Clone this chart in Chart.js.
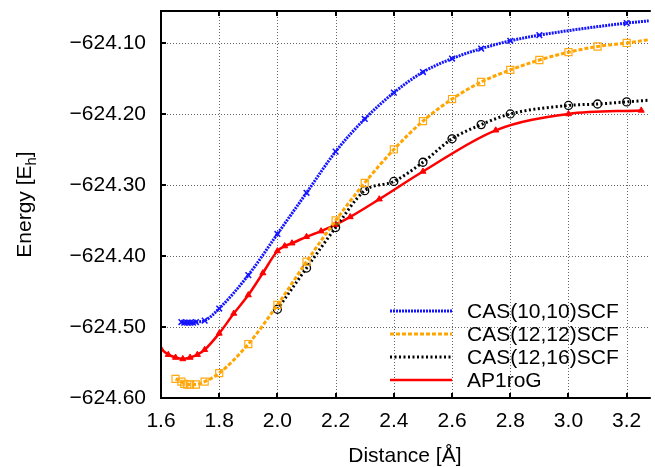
<!DOCTYPE html>
<html>
<head>
<meta charset="utf-8">
<script src="https://cdn.jsdelivr.net/npm/chart.js@4/dist/chart.umd.min.js"></script>
<style>
  html, body { margin: 0; padding: 0; background: #fff; }
  #chart { display: block; }
</style>
</head>
<body>
<canvas id="chart" width="655" height="467"></canvas>
<script>
// (Distance in Å, Energy in Eh)
const cas1010X = [1.67, 1.68, 1.69, 1.70, 1.71, 1.72, 1.75, 1.80, 1.90, 2.00, 2.10, 2.20, 2.30, 2.40, 2.50, 2.60, 2.70, 2.80, 2.90, 3.20, 3.30];
const cas1010E = [-624.493, -624.494, -624.494, -624.494, -624.494, -624.493, -624.491, -624.474, -624.427, -624.369, -624.311, -624.253, -624.207, -624.170, -624.141, -624.122, -624.108, -624.097, -624.089, -624.072, -624.068];

const cas1212X = [1.65, 1.67, 1.68, 1.69, 1.70, 1.72, 1.75, 1.80, 1.90, 2.00, 2.10, 2.20, 2.30, 2.40, 2.50, 2.60, 2.70, 2.80, 2.90, 3.00, 3.10, 3.20, 3.30];
const cas1212E = [-624.573, -624.577, -624.580, -624.581, -624.581, -624.581, -624.577, -624.565, -624.524, -624.469, -624.408, -624.350, -624.297, -624.250, -624.210, -624.179, -624.155, -624.138, -624.124, -624.113, -624.105, -624.100, -624.094];

const cas1216X = [2.00, 2.10, 2.20, 2.30, 2.40, 2.50, 2.60, 2.70, 2.80, 3.00, 3.10, 3.20, 3.30];
const cas1216E = [-624.475, -624.417, -624.360, -624.308, -624.295, -624.268, -624.235, -624.215, -624.200, -624.188, -624.186, -624.183, -624.180];

const ap1rogX = [1.60, 1.625, 1.65, 1.675, 1.70, 1.725, 1.75, 1.80, 1.85, 1.90, 1.95, 2.00, 2.025, 2.05, 2.10, 2.15, 2.20, 2.25, 2.35, 2.50, 2.75, 3.00, 3.25];
const ap1rogE = [-624.531, -624.539, -624.543, -624.545, -624.543, -624.539, -624.532, -624.509, -624.481, -624.455, -624.424, -624.393, -624.386, -624.382, -624.373, -624.365, -624.356, -624.345, -624.320, -624.281, -624.223, -624.200, -624.195];

const seriesNames = ['CAS(10,10)SCF', 'CAS(12,12)SCF', 'CAS(12,16)SCF', 'AP1roG'];
const xTicks = [1.6, 1.8, 2.0, 2.2, 2.4, 2.6, 2.8, 3.0, 3.2];
const yTicks = [-624.6, -624.5, -624.4, -624.3, -624.2, -624.1];

const FONT = '"Liberation Sans", Arial, Helvetica, sans-serif';

function pts(xs, ys) {
    return xs.map((x, i) => ({ x: x, y: ys[i] }));
}

// dotted grid behind the curves
const dottedGrid = {
    id: 'dottedGrid',
    beforeDatasetsDraw(chart) {
        const ctx = chart.ctx;
        const a = chart.chartArea;
        const xs = chart.scales.x, ys = chart.scales.y;
        ctx.save();
        ctx.strokeStyle = 'rgba(0,0,0,0.6)';
        ctx.lineWidth = 1;
        ctx.setLineDash([1, 2]);
        ctx.beginPath();
        xTicks.slice(1).forEach(v => {
            const px = Math.round(xs.getPixelForValue(v)) + 0.5;
            ctx.moveTo(px, a.top);
            ctx.lineTo(px, a.bottom);
        });
        yTicks.slice(1).forEach(v => {
            const py = Math.round(ys.getPixelForValue(v)) + 0.5;
            ctx.moveTo(a.left, py);
            ctx.lineTo(a.right, py);
        });
        ctx.stroke();
        ctx.restore();
    }
};

// frame, inward ticks, y title and legend drawn like gnuplot
const gnuplotDeco = {
    id: 'gnuplotDeco',
    afterDatasetsDraw(chart) {
        const ctx = chart.ctx;
        const a = chart.chartArea;
        const xs = chart.scales.x, ys = chart.scales.y;
        ctx.save();
        ctx.strokeStyle = '#000';
        ctx.lineWidth = 2;
        ctx.beginPath();
        ctx.moveTo(a.right + 2, a.top);
        ctx.lineTo(a.left, a.top);
        ctx.lineTo(a.left, a.bottom);
        ctx.lineTo(a.right + 2, a.bottom);
        ctx.stroke();
        // tick marks pointing inwards
        ctx.beginPath();
        xTicks.forEach(v => {
            const px = Math.round(xs.getPixelForValue(v));
            ctx.moveTo(px, a.bottom); ctx.lineTo(px, a.bottom - 5);
            ctx.moveTo(px, a.top); ctx.lineTo(px, a.top + 5);
        });
        yTicks.forEach(v => {
            const py = Math.round(ys.getPixelForValue(v));
            ctx.moveTo(a.left, py); ctx.lineTo(a.left + 5, py);
        });
        ctx.stroke();

        // y axis title with subscript h
        ctx.fillStyle = '#000';
        ctx.translate(31, (a.top + a.bottom) / 2);
        ctx.rotate(-Math.PI / 2);
        ctx.textBaseline = 'alphabetic';
        const p1 = 'Energy [E', p3 = ']';
        ctx.font = '21px ' + FONT;
        const w1 = ctx.measureText(p1).width;
        ctx.font = '15px ' + FONT;
        const w2 = ctx.measureText('h').width;
        ctx.font = '21px ' + FONT;
        const w3 = ctx.measureText(p3).width;
        let sx = -(w1 + w2 + w3) / 2;
        ctx.fillText(p1, sx, 0);
        sx += w1;
        ctx.font = '15px ' + FONT;
        ctx.fillText('h', sx, 5);
        sx += w2;
        ctx.font = '21px ' + FONT;
        ctx.fillText(p3, sx, 0);
        ctx.restore();

        // legend
        ctx.save();
        ctx.font = '21px ' + FONT;
        ctx.textBaseline = 'middle';
        ctx.textAlign = 'left';
        ctx.fillStyle = '#000';
        const rows = [311, 334, 357, 380];
        chart.data.datasets.forEach((ds, i) => {
            const y = rows[i];
            ctx.strokeStyle = ds.borderColor;
            ctx.lineWidth = ds.borderWidth;
            ctx.setLineDash(ds.borderDash || []);
            ctx.beginPath();
            ctx.moveTo(390, y);
            ctx.lineTo(452, y);
            ctx.stroke();
            ctx.setLineDash([]);
            ctx.fillText(ds.label, 467, y + 1);
        });
        ctx.restore();
    }
};

const ctx = document.getElementById('chart').getContext('2d');
new Chart(ctx, {
    type: 'line',
    data: {
        datasets: [
            {
                label: seriesNames[0],
                data: pts(cas1010X, cas1010E),
                borderColor: 'rgb(20, 20, 255)',
                borderWidth: 3,
                borderDash: [2, 1],
                pointStyle: 'crossRot',
                pointRadius: 4,
                pointBorderWidth: 1.5,
                pointBorderColor: 'rgb(20, 20, 255)',
                pointBackgroundColor: 'rgb(20, 20, 255)'
            },
            {
                label: seriesNames[1],
                data: pts(cas1212X, cas1212E),
                borderColor: 'rgb(255, 165, 0)',
                borderWidth: 3,
                borderDash: [4, 2],
                pointStyle: 'rect',
                pointRadius: 5,
                pointBorderWidth: 1.2,
                pointBorderColor: 'rgb(255, 170, 20)',
                pointBackgroundColor: 'rgba(0,0,0,0)'
            },
            {
                label: seriesNames[2],
                data: pts(cas1216X, cas1216E),
                borderColor: '#000',
                borderWidth: 3,
                borderDash: [2, 2.5],
                pointStyle: 'circle',
                pointRadius: 4,
                pointBorderWidth: 1.3,
                pointBorderColor: '#000',
                pointBackgroundColor: 'rgba(0,0,0,0)'
            },
            {
                label: seriesNames[3],
                data: pts(ap1rogX, ap1rogE),
                borderColor: 'rgb(255, 0, 0)',
                borderWidth: 2.5,
                pointStyle: 'triangle',
                pointRadius: 3.5,
                pointBorderWidth: 1,
                pointBorderColor: 'rgb(255, 0, 0)',
                pointBackgroundColor: 'rgb(255, 0, 0)'
            }
        ]
    },
    options: {
        responsive: false,
        animation: false,
        devicePixelRatio: 1,
        layout: { padding: { top: 11, left: 0, right: 0, bottom: 0 } },
        elements: { line: { cubicInterpolationMode: 'monotone', fill: false } },
        plugins: { legend: { display: false }, tooltip: { enabled: false } },
        scales: {
            x: {
                type: 'linear',
                min: 1.6,
                max: 3.276,
                afterBuildTicks: s => { s.ticks = xTicks.map(v => ({ value: v })); },
                afterFit: s => { s.height = 69; s.paddingLeft = 0; s.paddingRight = 0; },
                grid: { display: false, drawTicks: false },
                border: { display: false },
                ticks: {
                    padding: 11,
                    color: '#000',
                    font: { family: FONT, size: 21 },
                    callback: v => v.toFixed(1)
                },
                title: {
                    display: true,
                    text: 'Distance [Å]',
                    color: '#000',
                    font: { family: FONT, size: 21 },
                    padding: { top: 0, bottom: -2 }
                }
            },
            y: {
                min: -624.6,
                max: -624.055,
                afterBuildTicks: s => { s.ticks = yTicks.map(v => ({ value: v })); },
                afterFit: s => { s.width = 161; s.paddingTop = 0; s.paddingBottom = 0; },
                grid: { display: false, drawTicks: false },
                border: { display: false },
                ticks: {
                    padding: 15,
                    color: '#000',
                    font: { family: FONT, size: 21 },
                    callback: v => '\u2212' + Math.abs(v).toFixed(2)
                }
            }
        }
    },
    plugins: [dottedGrid, gnuplotDeco]
});
</script>
</body>
</html>
